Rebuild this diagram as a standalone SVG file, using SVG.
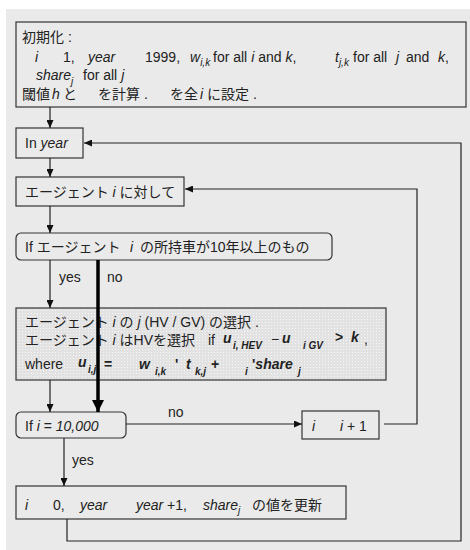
<svg xmlns="http://www.w3.org/2000/svg" width="470" height="550" viewBox="0 0 470 550">
<style>
.t{font-family:"Liberation Sans","Noto Sans CJK JP",sans-serif;font-size:14px;fill:#222}
.i{font-style:italic}
.b{font-weight:bold}
.s{font-size:10px}
.box{fill:#eaeaea;stroke:#333;stroke-width:1.2}
.ln{fill:none;stroke:#222;stroke-width:1.2}
</style>
<defs>
<marker id="ah" markerUnits="userSpaceOnUse" markerWidth="8" markerHeight="7" refX="8" refY="3.5" orient="auto"><path d="M0,0 L8,3.5 L0,7 z" fill="#111"/></marker>
<marker id="ahb" markerUnits="userSpaceOnUse" markerWidth="12" markerHeight="12" refX="12" refY="6" orient="auto"><path d="M0,0 L12,6 L0,12 z" fill="#000"/></marker>
<pattern id="dots" width="3" height="3" patternUnits="userSpaceOnUse"><rect width="3" height="3" fill="#e2e2e2"/><rect x="1" y="1" width="1" height="1" fill="#f6f6f6"/></pattern>
</defs>
<rect x="0" y="0" width="470" height="550" fill="#fff"/>
<rect x="6" y="9" width="464" height="541" fill="#eaeaea"/>

<g id="init">
<rect class="box" x="16" y="22" width="450" height="85"/>
<text class="t" x="22" y="42">初期化 :</text>
<text class="t" y="62"><tspan class="i" x="35">i</tspan><tspan x="63">1,</tspan><tspan class="i" x="88">year</tspan><tspan x="145">1999,</tspan><tspan class="i" x="190">w</tspan><tspan class="i s" dy="4">i,k</tspan><tspan x="213" dy="-4">for all </tspan><tspan class="i">i</tspan><tspan> and </tspan><tspan class="i">k</tspan><tspan>,</tspan><tspan class="i" x="335">t</tspan><tspan class="i s" dy="4">j,k</tspan><tspan x="353" dy="-4">for all</tspan><tspan class="i" x="396">j</tspan><tspan x="406">and</tspan><tspan class="i" x="438">k</tspan><tspan>,</tspan></text>
<text class="t" y="80"><tspan class="i" x="36">share</tspan><tspan class="i s" dy="5">j</tspan><tspan x="83" dy="-5">for all </tspan><tspan class="i">j</tspan></text>
<text class="t" y="99"><tspan x="22">閾値</tspan><tspan class="i" x="52">h</tspan><tspan x="63">と</tspan><tspan x="98">を計算 .</tspan><tspan x="170">を全</tspan><tspan class="i" x="200">i</tspan><tspan x="207">に設定 .</tspan></text>
</g>

<g id="inyear">
<rect class="box" x="16" y="128" width="67" height="30"/>
<text class="t" x="25" y="148">In <tspan class="i">year</tspan></text>
</g>

<g id="agent">
<rect class="box" x="16" y="177" width="168" height="29"/>
<text class="t" x="25" y="197">エージェント <tspan class="i">i</tspan> に対して</text>
</g>

<g id="if10">
<rect class="box" x="16" y="233" width="316" height="27" rx="5"/>
<text class="t" y="252"><tspan x="25">If エージェント</tspan><tspan class="i" x="130">i</tspan><tspan x="140">の所持車が10年以上のもの</tspan></text>
</g>

<g id="choice">
<rect x="16" y="308" width="370" height="72" fill="url(#dots)" stroke="#333" stroke-width="1.2"/>
<text class="t" y="327"><tspan x="25">エージェント </tspan><tspan class="i">i</tspan><tspan> の </tspan><tspan class="i">j</tspan><tspan> (HV / GV) の選択 .</tspan></text>
<text class="t" y="345"><tspan x="25">エージェント </tspan><tspan class="i">i</tspan><tspan> はHVを選択 </tspan><tspan x="208">if</tspan><tspan class="b i" x="223" dy="-2">u</tspan><tspan class="b i s" x="233" dy="6">i, HEV</tspan><tspan x="271" dy="-5">−</tspan><tspan class="b i" x="282" dy="-1">u</tspan><tspan class="b i s" x="303" dy="6">i GV</tspan><tspan class="b" x="335" dy="-7">&gt;</tspan><tspan class="b i" x="351">k</tspan><tspan x="364" dy="2">,</tspan></text>
<text class="t" y="369"><tspan x="25">where</tspan><tspan class="b i" x="78" dy="-2">u</tspan><tspan class="b i s" x="88" dy="6">i,j</tspan><tspan class="b" x="104" dy="-4">=</tspan><tspan class="b i" x="139">w</tspan><tspan class="b i s" x="155" dy="6">i,k</tspan><tspan class="b" x="175" dy="-6">'</tspan><tspan class="b i" x="186">t</tspan><tspan class="b i s" x="195" dy="6">k,j</tspan><tspan class="b" x="211" dy="-6">+</tspan><tspan class="b i s" x="245" dy="6">i</tspan><tspan class="b" x="252" dy="-6">'</tspan><tspan class="b i">share</tspan><tspan class="b i s" x="298" dy="6">j</tspan></text>
</g>

<g id="ifi">
<rect class="box" x="16" y="412" width="110" height="26" rx="5"/>
<text class="t" x="25" y="431">If <tspan class="i">i</tspan> = <tspan class="i">10,000</tspan></text>
</g>

<g id="incr">
<rect class="box" x="302" y="411" width="77" height="28"/>
<text class="t" y="431"><tspan class="i" x="312">i</tspan><tspan class="i" x="340">i</tspan><tspan> + 1</tspan></text>
</g>

<g id="update">
<rect class="box" x="16" y="486" width="330" height="33"/>
<text class="t" y="510"><tspan class="i" x="25">i</tspan><tspan x="53">0,</tspan><tspan class="i" x="80">year</tspan><tspan class="i" x="136">year</tspan><tspan> +1,</tspan><tspan class="i" x="203">share</tspan><tspan class="i s" dy="4">j</tspan><tspan x="252" dy="-4">の値を更新</tspan></text>
</g>

<g id="connectors">
<line class="ln" x1="50" y1="107" x2="50" y2="128" marker-end="url(#ah)"/>
<line class="ln" x1="50" y1="158" x2="50" y2="177" marker-end="url(#ah)"/>
<line class="ln" x1="50" y1="206" x2="50" y2="233" marker-end="url(#ah)"/>
<line class="ln" x1="50" y1="260" x2="50" y2="308" marker-end="url(#ah)"/>
<line class="ln" x1="50" y1="380" x2="50" y2="412" marker-end="url(#ah)"/>
<line x1="98" y1="260" x2="98" y2="412" stroke="#000" stroke-width="3.5" marker-end="url(#ahb)"/>
<line class="ln" x1="126" y1="424" x2="302" y2="424" marker-end="url(#ah)"/>
<polyline class="ln" points="384,424 417,424 417,189 185,189" marker-end="url(#ah)"/>
<line class="ln" x1="64" y1="438" x2="64" y2="486" marker-end="url(#ah)"/>
<polyline class="ln" points="67,519 67,541 461,541 461,143 84,143" marker-end="url(#ah)"/>
<text class="t" x="59" y="282">yes</text>
<text class="t" x="107" y="282">no</text>
<text class="t" x="168" y="417">no</text>
<text class="t" x="72" y="465">yes</text>
</g>
</svg>
